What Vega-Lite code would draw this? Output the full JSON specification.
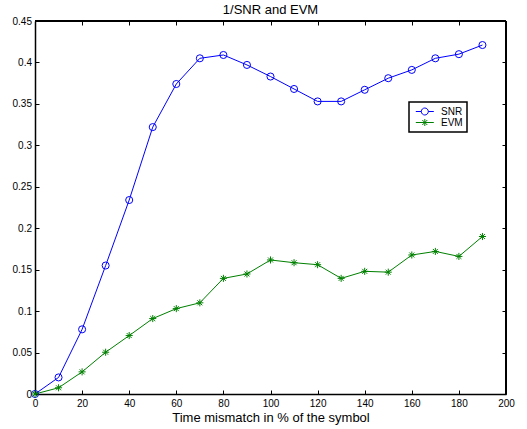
{
  "$schema": "https://vega.github.io/schema/vega-lite/v6.json",
  "autosize": "none",
  "width": 471,
  "height": 373,
  "padding": {"left": 35, "top": 21, "right": 21, "bottom": 35},
  "background": "white",
  "view": {"stroke": null},
  "title": {"text": "1/SNR and EVM", "fontSize": 13, "font": "Liberation Sans", "fontWeight": "normal", "color": "black", "offset": -1},
  "config": {
    "font": "Liberation Sans",
    "axis": {
      "domainColor": "black", "domainWidth": 1.5,
      "tickColor": "black", "tickSize": -4, "tickWidth": 1,
      "labelColor": "black", "labelFontSize": 10, "labelFont": "Liberation Sans", "labelFlush": false,
      "titleColor": "black", "titleFontSize": 13, "titleFontWeight": "normal", "titleFont": "Liberation Sans",
      "grid": false
    },
    "legend": {
      "orient": "none", "legendX": 374, "legendY": 81,
      "title": null, "padding": 4,
      "strokeColor": "black", "fillColor": "white",
      "symbolSize": 100, "symbolStrokeWidth": 1, "symbolFillColor": "transparent",
      "labelFontSize": 10, "labelColor": "black", "labelOffset": 17, "rowPadding": 0
    }
  },
  "data": {
    "values": [
      {"mismatch": 0, "series": "SNR", "value": 0.0},
      {"mismatch": 10, "series": "SNR", "value": 0.020},
      {"mismatch": 20, "series": "SNR", "value": 0.078},
      {"mismatch": 30, "series": "SNR", "value": 0.155},
      {"mismatch": 40, "series": "SNR", "value": 0.234},
      {"mismatch": 50, "series": "SNR", "value": 0.322},
      {"mismatch": 60, "series": "SNR", "value": 0.374},
      {"mismatch": 70, "series": "SNR", "value": 0.405},
      {"mismatch": 80, "series": "SNR", "value": 0.409},
      {"mismatch": 90, "series": "SNR", "value": 0.397},
      {"mismatch": 100, "series": "SNR", "value": 0.383},
      {"mismatch": 110, "series": "SNR", "value": 0.368},
      {"mismatch": 120, "series": "SNR", "value": 0.353},
      {"mismatch": 130, "series": "SNR", "value": 0.353},
      {"mismatch": 140, "series": "SNR", "value": 0.367},
      {"mismatch": 150, "series": "SNR", "value": 0.381},
      {"mismatch": 160, "series": "SNR", "value": 0.391},
      {"mismatch": 170, "series": "SNR", "value": 0.405},
      {"mismatch": 180, "series": "SNR", "value": 0.410},
      {"mismatch": 190, "series": "SNR", "value": 0.421},
      {"mismatch": 0, "series": "EVM", "value": 0.0},
      {"mismatch": 10, "series": "EVM", "value": 0.0075},
      {"mismatch": 20, "series": "EVM", "value": 0.0267},
      {"mismatch": 30, "series": "EVM", "value": 0.0504},
      {"mismatch": 40, "series": "EVM", "value": 0.0705},
      {"mismatch": 50, "series": "EVM", "value": 0.091},
      {"mismatch": 60, "series": "EVM", "value": 0.103},
      {"mismatch": 70, "series": "EVM", "value": 0.110},
      {"mismatch": 80, "series": "EVM", "value": 0.1395},
      {"mismatch": 90, "series": "EVM", "value": 0.1448},
      {"mismatch": 100, "series": "EVM", "value": 0.1617},
      {"mismatch": 110, "series": "EVM", "value": 0.1584},
      {"mismatch": 120, "series": "EVM", "value": 0.156},
      {"mismatch": 130, "series": "EVM", "value": 0.1395},
      {"mismatch": 140, "series": "EVM", "value": 0.148},
      {"mismatch": 150, "series": "EVM", "value": 0.147},
      {"mismatch": 160, "series": "EVM", "value": 0.1677},
      {"mismatch": 170, "series": "EVM", "value": 0.172},
      {"mismatch": 180, "series": "EVM", "value": 0.166},
      {"mismatch": 190, "series": "EVM", "value": 0.190}
    ]
  },
  "layer": [
    {
      "mark": {"type": "line", "strokeWidth": 1},
      "encoding": {
        "x": {
          "field": "mismatch", "type": "quantitative",
          "scale": {"domain": [0, 200], "nice": false},
          "axis": {"orient": "bottom", "values": [0, 20, 40, 60, 80, 100, 120, 140, 160, 180, 200], "title": "Time mismatch in % of the symbol", "labelPadding": 8.5, "titlePadding": 3}
        },
        "y": {
          "field": "value", "type": "quantitative",
          "scale": {"domain": [0, 0.45], "nice": false, "zero": false},
          "axis": {"orient": "left", "values": [0, 0.05, 0.1, 0.15, 0.2, 0.25, 0.3, 0.35, 0.4, 0.45], "format": "~g", "title": null, "labelPadding": 7.5}
        },
        "color": {
          "field": "series", "type": "nominal",
          "scale": {"domain": ["SNR", "EVM"], "range": ["#0000ff", "#008000"]},
          "legend": {
            "encode": {
              "legend": {"update": {"strokeWidth": {"value": 1.5}}},
              "symbols": {"update": {"shape": {"signal": "datum.value === 'SNR' ? 'M-0.54,0H0.56M1.96,0H3.06M0.56,0A0.7,0.7 0 1,1 1.96,0A0.7,0.7 0 1,1 0.56,0' : 'M-0.54,0H3.06M1.26,-0.7V0.7M0.76,-0.5L1.76,0.5M0.76,0.5L1.76,-0.5'"}}}
            }
          }
        }
      }
    },
    {
      "transform": [{"filter": "datum.series === 'SNR'"}],
      "mark": {"type": "point", "shape": "circle", "filled": false, "size": 50, "strokeWidth": 1, "opacity": 1},
      "encoding": {
        "x": {
          "field": "mismatch", "type": "quantitative",
          "axis": {"orient": "top", "values": [0, 20, 40, 60, 80, 100, 120, 140, 160, 180, 200], "labels": false, "domain": false, "title": null}
        },
        "y": {
          "field": "value", "type": "quantitative",
          "axis": {"orient": "right", "values": [0, 0.05, 0.1, 0.15, 0.2, 0.25, 0.3, 0.35, 0.4, 0.45], "labels": false, "domain": false, "title": null}
        },
        "color": {
          "field": "series", "type": "nominal",
          "legend": {
            "encode": {
              "legend": {"update": {"strokeWidth": {"value": 1.5}}},
              "symbols": {"update": {"shape": {"signal": "datum.value === 'SNR' ? 'M-0.54,0H0.56M1.96,0H3.06M0.56,0A0.7,0.7 0 1,1 1.96,0A0.7,0.7 0 1,1 0.56,0' : 'M-0.54,0H3.06M1.26,-0.7V0.7M0.76,-0.5L1.76,0.5M0.76,0.5L1.76,-0.5'"}}}
            }
          }
        }
      }
    },
    {
      "transform": [{"filter": "datum.series === 'EVM'"}],
      "mark": {"type": "point", "shape": "M-1,0H1M0,-1V1M-0.7,-0.7L0.7,0.7M-0.7,0.7L0.7,-0.7", "filled": false, "size": 50, "strokeWidth": 1, "opacity": 1},
      "encoding": {
        "x": {"field": "mismatch", "type": "quantitative", "axis": null},
        "y": {"field": "value", "type": "quantitative", "axis": null},
        "color": {
          "field": "series", "type": "nominal",
          "legend": {
            "encode": {
              "legend": {"update": {"strokeWidth": {"value": 1.5}}},
              "symbols": {"update": {"shape": {"signal": "datum.value === 'SNR' ? 'M-0.54,0H0.56M1.96,0H3.06M0.56,0A0.7,0.7 0 1,1 1.96,0A0.7,0.7 0 1,1 0.56,0' : 'M-0.54,0H3.06M1.26,-0.7V0.7M0.76,-0.5L1.76,0.5M0.76,0.5L1.76,-0.5'"}}}
            }
          }
        }
      }
    },
    {
      "mark": {"type": "rule", "color": "black", "strokeWidth": 1.5},
      "encoding": {
        "x": {"datum": 0, "type": "quantitative", "axis": null},
        "x2": {"datum": 200},
        "y": {"datum": 0.45, "type": "quantitative", "axis": null}
      }
    },
    {
      "mark": {"type": "rule", "color": "black", "strokeWidth": 1.5},
      "encoding": {
        "x": {"datum": 200, "type": "quantitative", "axis": null},
        "y": {"datum": 0, "type": "quantitative", "axis": null},
        "y2": {"datum": 0.45}
      }
    }
  ],
  "resolve": {"axis": {"x": "independent", "y": "independent"}}
}
